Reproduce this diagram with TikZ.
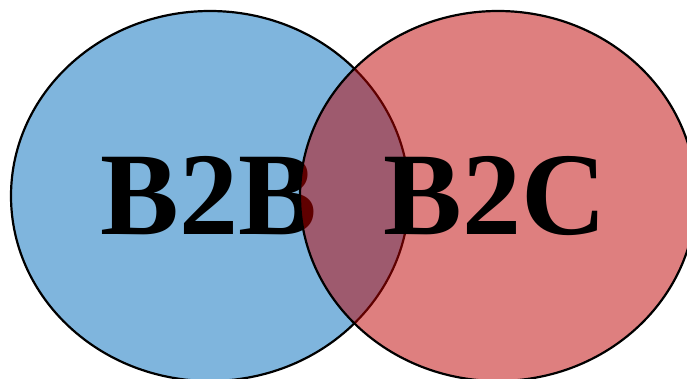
\documentclass[tikz,border=0pt]{standalone}
\usepackage{fontspec}
\setmainfont{Liberation Serif}
\definecolor{blueA}{HTML}{7FB5DD}
\definecolor{redA}{HTML}{BE0000}
\begin{document}
\begin{tikzpicture}[x=1pt,y=1pt,
  circ/.style={line width=2.2pt, draw=black},
  lbl/.style={anchor=base, inner sep=0pt, font=\fontsize{118}{122}\selectfont\bfseries, text=black}]
\useasboundingbox (0,0) rectangle (687,378);
\clip (0,0) rectangle (687,378);
\filldraw[circ, fill=blueA] (210,182) ellipse [x radius=199, y radius=185];
\node[lbl] (b2b) at (209,144) {B2B};
\filldraw[circ, fill=redA, fill opacity=0.5] (498,182) ellipse [x radius=198, y radius=185];
\node[lbl] (b2c) at (495,144) {B2C};
\end{tikzpicture}
\end{document}
